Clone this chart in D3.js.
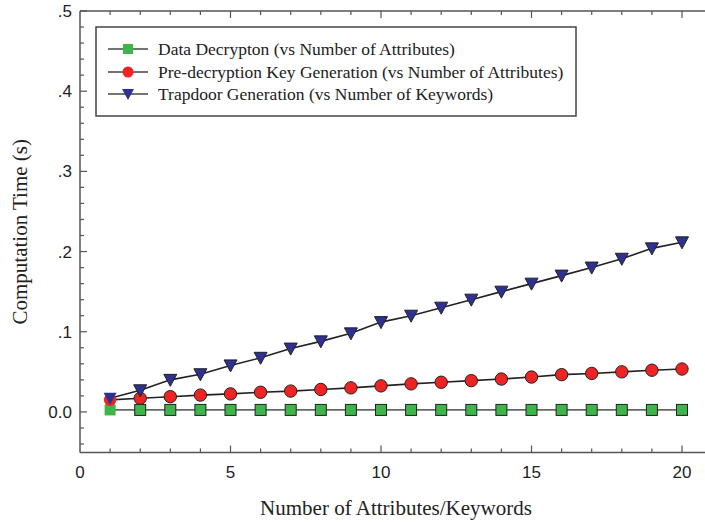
<!DOCTYPE html>
<html><head><meta charset="utf-8">
<script src="https://cdn.jsdelivr.net/npm/d3@7"></script>
<style>body{margin:0;background:#fff}svg{display:block}</style>
</head><body>
<script>
const xs = [1,2,3,4,5,6,7,8,9,10,11,12,13,14,15,16,17,18,19,20];
const dataDecryption = [0.0025,0.0025,0.0025,0.0025,0.0025,0.0025,0.0025,0.0025,0.0025,0.0025,0.0025,0.0025,0.0025,0.0025,0.0025,0.0025,0.0025,0.0025,0.0025,0.0025];
const preDecKeyGen = [0.015,0.017,0.019,0.021,0.0225,0.0245,0.026,0.028,0.030,0.0325,0.035,0.037,0.039,0.041,0.0435,0.0465,0.048,0.050,0.052,0.0535];
const trapdoorGen = [0.017,0.027,0.040,0.047,0.058,0.0675,0.079,0.088,0.098,0.112,0.120,0.130,0.140,0.150,0.160,0.170,0.180,0.191,0.204,0.2115];
const yTickVals = [0,0.1,0.2,0.3,0.4,0.5];
const yTickLabels = ["0.0",".1",".2",".3",".4",".5"];
const xTickVals = [0,5,10,15,20];
const legendLabels = ["Data Decrypton (vs Number of Attributes)","Pre-decryption Key Generation (vs Number of Attributes)","Trapdoor Generation (vs Number of Keywords)"];

const W=705,H=522;
const svg=d3.select("body").append("svg").attr("width",W).attr("height",H);
const L=80,R=705,T=11,B=452.5;
const x=d3.scaleLinear().domain([0,(R-L)/30.1]).range([L,R]);
const y=d3.scaleLinear().domain([-0.0506,0.5]).range([B,T]);
const axisCol="#555";

svg.append("line").attr("x1",L).attr("x2",R).attr("y1",B).attr("y2",B).attr("stroke",axisCol).attr("stroke-width",1.5);
svg.append("line").attr("x1",L).attr("x2",R).attr("y1",T).attr("y2",T).attr("stroke",axisCol).attr("stroke-width",1.5);
svg.append("line").attr("x1",L).attr("x2",L).attr("y1",T).attr("y2",B).attr("stroke",axisCol).attr("stroke-width",1.5);

const yMinor=d3.range(-0.04,0.5001,0.02);
yMinor.forEach(v=>{
  const major=Math.abs(Math.round(v*10)-v*10)<1e-6;
  svg.append("line").attr("x1",L).attr("x2",L+(major?7:4)).attr("y1",y(v)).attr("y2",y(v)).attr("stroke",axisCol).attr("stroke-width",1.2);
});
yTickVals.forEach((v,i)=>{
  svg.append("text").attr("x",L-8).attr("y",y(v)).attr("dy","0.35em").attr("text-anchor","end")
   .attr("font-family","Liberation Sans, Arial, sans-serif").attr("font-size",17).attr("fill","#222").text(yTickLabels[i]);
});
d3.range(1,21).forEach(v=>{
  const major=v%5===0;
  svg.append("line").attr("x1",x(v)).attr("x2",x(v)).attr("y1",B).attr("y2",B-(major?7:4)).attr("stroke",axisCol).attr("stroke-width",1.2);
  svg.append("line").attr("x1",x(v)).attr("x2",x(v)).attr("y1",T).attr("y2",T+(major?7:4)).attr("stroke",axisCol).attr("stroke-width",1.2);
});
xTickVals.forEach(v=>{
  svg.append("text").attr("x",x(v)).attr("y",B+25).attr("text-anchor","middle")
   .attr("font-family","Liberation Sans, Arial, sans-serif").attr("font-size",17).attr("fill","#222").text(v);
});

svg.append("text").attr("x",396).attr("y",515).attr("text-anchor","middle")
 .attr("font-family","Liberation Serif, Times New Roman, serif").attr("font-size",21).attr("fill","#222").text("Number of Attributes/Keywords");
svg.append("text").attr("transform",`translate(27,${(T+B)/2}) rotate(-90)`).attr("text-anchor","middle")
 .attr("font-family","Liberation Serif, Times New Roman, serif").attr("font-size",21).attr("fill","#222").text("Computation Time (s)");

const series=[
 {vals:dataDecryption,color:"#3db549",line:"#666",shape:"square"},
 {vals:preDecKeyGen,color:"#ee2424",line:"#222",shape:"circle"},
 {vals:trapdoorGen,color:"#2e3192",line:"#222",shape:"tri"}
];
function drawMarker(g,shape,cx,cy,color,stroke){
  if(shape==="square") g.append("rect").attr("x",cx-5.5).attr("y",cy-5.5).attr("width",11).attr("height",11).attr("fill",color).attr("stroke",stroke).attr("stroke-width",1);
  else if(shape==="circle") g.append("circle").attr("cx",cx).attr("cy",cy).attr("r",6.2).attr("fill",color).attr("stroke",stroke).attr("stroke-width",1);
  else g.append("path").attr("d",`M${cx-6.5},${cy-5.5}L${cx+6.5},${cy-5.5}L${cx},${cy+6.5}Z`).attr("fill",color).attr("stroke",stroke).attr("stroke-width",1);
}
const line=d3.line().x((d,i)=>x(xs[i])).y(d=>y(d));
series.forEach(s=>{
  svg.append("path").attr("d",line(s.vals)).attr("fill","none").attr("stroke",s.line).attr("stroke-width",1.6);
});
series.forEach(s=>{
  const g=svg.append("g");
  s.vals.forEach((v,i)=>drawMarker(g,s.shape,x(xs[i]),y(v),s.color,i===0?"none":"#222"));
});

const lg=svg.append("g");
lg.append("rect").attr("x",96).attr("y",27).attr("width",480).attr("height",89).attr("fill","#fff").attr("stroke","#444").attr("stroke-width",1.5);
const rowY=[49,72,94];
series.forEach((s,i)=>{
  lg.append("line").attr("x1",108).attr("x2",148).attr("y1",rowY[i]).attr("y2",rowY[i]).attr("stroke","#444").attr("stroke-width",1.6);
  const g=lg.append("g");
  if(s.shape==="square") g.append("rect").attr("x",123).attr("y",rowY[i]-5).attr("width",10).attr("height",10).attr("fill",s.color);
  else if(s.shape==="circle") g.append("circle").attr("cx",128).attr("cy",rowY[i]).attr("r",5.5).attr("fill",s.color);
  else g.append("path").attr("d",`M${122},${rowY[i]-5}L${134},${rowY[i]-5}L${128},${rowY[i]+6}Z`).attr("fill",s.color);
  lg.append("text").attr("x",158).attr("y",rowY[i]).attr("dy","0.35em")
   .attr("font-family","Liberation Serif, Times New Roman, serif").attr("font-size",17.5).attr("fill","#222").text(legendLabels[i]);
});
</script>
</body></html>
